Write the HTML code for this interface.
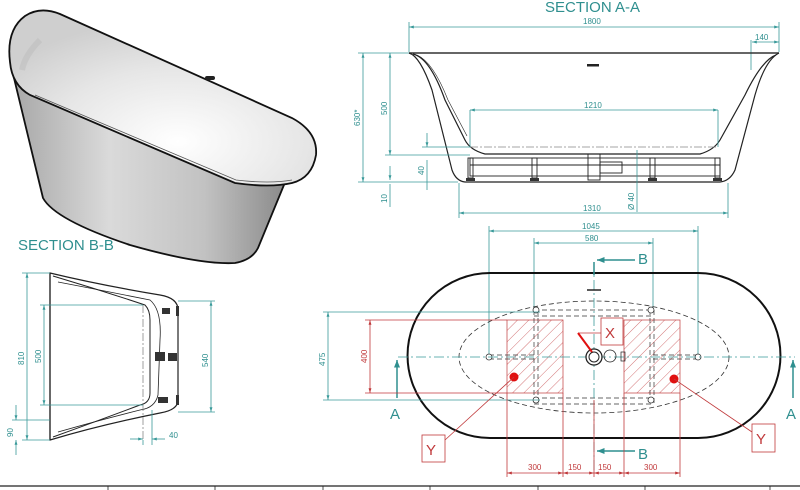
<!DOCTYPE html>
<html><head><meta charset="utf-8"><style>
html,body{margin:0;padding:0;background:#fff;width:800px;height:490px;overflow:hidden}
svg{display:block}
.t{font-family:"Liberation Sans",sans-serif;fill:#2f8f8f}
.d{stroke:#3a9a9a;stroke-width:0.8;fill:none}
.r{stroke:#c0393b;stroke-width:0.8;fill:none}
.k{stroke:#222;fill:none}
</style></head><body>
<svg width="800" height="490" viewBox="0 0 800 490" xmlns="http://www.w3.org/2000/svg">
<defs>
<linearGradient id="body" x1="0" y1="0" x2="1" y2="0">
<stop offset="0" stop-color="#a8a8a8"/><stop offset="0.35" stop-color="#dadada"/><stop offset="0.7" stop-color="#c2c2c2"/><stop offset="1" stop-color="#8a8a8a"/></linearGradient>
<radialGradient id="inner" cx="0.55" cy="0.75" r="0.7">
<stop offset="0" stop-color="#ffffff"/><stop offset="0.6" stop-color="#e6e6e6"/><stop offset="1" stop-color="#cfcfcf"/></radialGradient>
<pattern id="hat" width="8" height="8" patternUnits="userSpaceOnUse" patternTransform="rotate(45)">
<line x1="0" y1="0" x2="0" y2="8" stroke="#c0393b" stroke-width="0.7"/></pattern>
<marker id="a" viewBox="0 0 10 10" refX="10" refY="5" markerWidth="6" markerHeight="6" orient="auto-start-reverse"><path d="M0,2L10,5L0,8z" fill="#3a9a9a"/></marker>
<marker id="ar" viewBox="0 0 10 10" refX="10" refY="5" markerWidth="6" markerHeight="6" orient="auto-start-reverse"><path d="M0,2L10,5L0,8z" fill="#c0393b"/></marker>
<marker id="ab" viewBox="0 0 10 10" refX="10" refY="5" markerWidth="5" markerHeight="5" orient="auto-start-reverse"><path d="M0,1L10,5L0,9z" fill="#2f8f8f"/></marker>
</defs>

<!-- 3D tub -->
<path d="M14,78 L43,198 Q55,220 130,245 Q200,265 235,263 Q252,260 258,248 L286,180 L200,150 Z" fill="url(#body)" stroke="#111" stroke-width="1.8"/>
<path d="M10,62 Q6,30 25,16 Q40,6 60,14 L292,118 Q318,132 316,155 Q312,178 292,183 Q270,188 235,183 L30,95 Q12,85 10,62 Z" fill="url(#inner)" stroke="#111" stroke-width="1.8"/>
<path d="M22,70 Q25,55 40,40" stroke="#bbb" stroke-width="6" fill="none" opacity="0.5"/>
<path d="M35,95 L236,180 Q270,184 292,180" stroke="#555" stroke-width="0.8" fill="none"/>
<rect x="205" y="76" width="10" height="4" rx="2" fill="#222"/>

<!-- Section A-A -->
<text x="545" y="12" class="t" font-size="15">SECTION A-A</text>
<line x1="409" y1="27" x2="779" y2="27" class="d" marker-start="url(#a)" marker-end="url(#a)"/>
<text x="583" y="24" class="t" font-size="8">1800</text>
<line x1="409" y1="22" x2="409" y2="52" class="d"/><line x1="779" y1="22" x2="779" y2="52" class="d"/>
<line x1="751" y1="40" x2="751" y2="70" class="d"/>
<line x1="752" y1="42" x2="779" y2="42" class="d" marker-start="url(#a)" marker-end="url(#a)"/>
<text x="755" y="40" class="t" font-size="8">140</text>
<path d="M409,53 L779,53" stroke="#333" stroke-width="1.5"/>
<path d="M409,53 Q420,56 432,90 L452,170 Q456,181 465,182 L720,182 Q730,181 735,170 L755,95 Q765,60 779,53" class="k" stroke-width="1.2"/>
<path d="M413,54 Q430,58 445,100 L465,140 Q470,150 485,154 L700,154 Q714,150 720,140 L745,95 Q762,60 776,55" class="k" stroke-width="1.2"/>
<path d="M417,55 Q433,62 448,100 L467,136" class="k" stroke-width="0.6"/>
<rect x="587" y="64" width="12" height="2.5" fill="#222"/>
<line x1="470" y1="147" x2="718" y2="147" stroke="#888" stroke-width="0.7" stroke-dasharray="8,2,2,2"/>
<line x1="470" y1="110" x2="718" y2="110" class="d" marker-start="url(#a)" marker-end="url(#a)"/>
<text x="584" y="108" class="t" font-size="8">1210</text>
<line x1="470" y1="110" x2="470" y2="147" class="d"/><line x1="718" y1="110" x2="718" y2="147" class="d"/>
<g class="k" stroke-width="0.9">
<rect x="470" y="158" width="250" height="18"/>
<line x1="470" y1="165" x2="720" y2="165"/>
<rect x="468" y="158" width="5" height="20"/><rect x="532" y="158" width="5" height="20"/>
<rect x="650" y="158" width="5" height="20"/><rect x="715" y="158" width="5" height="20"/>
<rect x="588" y="154" width="12" height="26"/><rect x="600" y="162" width="22" height="11"/>
</g>
<g fill="#333"><rect x="466" y="178" width="9" height="3"/><rect x="530" y="178" width="9" height="3"/><rect x="648" y="178" width="9" height="3"/><rect x="713" y="178" width="9" height="3"/></g>
<line x1="363" y1="53" x2="363" y2="182" class="d" marker-start="url(#a)" marker-end="url(#a)"/>
<line x1="358" y1="53" x2="409" y2="53" class="d"/><line x1="358" y1="182" x2="458" y2="182" class="d"/>
<text x="0" y="0" class="t" font-size="8" transform="translate(360,126) rotate(-90)">630*</text>
<line x1="390" y1="53" x2="390" y2="155" class="d" marker-start="url(#a)" marker-end="url(#a)"/>
<line x1="385" y1="155" x2="470" y2="155" class="d"/>
<text x="0" y="0" class="t" font-size="8" transform="translate(387,115) rotate(-90)">500</text>
<line x1="427" y1="133" x2="427" y2="147" class="d" marker-end="url(#a)"/>
<line x1="427" y1="190" x2="427" y2="160" class="d"/>
<line x1="422" y1="147" x2="470" y2="147" class="d"/>
<text x="0" y="0" class="t" font-size="8" transform="translate(424,175) rotate(-90)">40</text>
<line x1="390" y1="166" x2="390" y2="180" class="d" marker-end="url(#a)"/>
<line x1="390" y1="207" x2="390" y2="184" class="d"/>
<text x="0" y="0" class="t" font-size="8" transform="translate(387,203) rotate(-90)">10</text>
<line x1="459" y1="183" x2="459" y2="218" class="d"/><line x1="728" y1="183" x2="728" y2="218" class="d"/>
<line x1="459" y1="213" x2="728" y2="213" class="d" marker-start="url(#a)" marker-end="url(#a)"/>
<text x="583" y="211" class="t" font-size="8">1310</text>
<line x1="637" y1="150" x2="637" y2="212" class="d"/>
<text x="0" y="0" class="t" font-size="8" transform="translate(634,210) rotate(-90)">Ø 40</text>

<!-- Plan view -->
<line x1="489" y1="226" x2="489" y2="360" class="d"/><line x1="698" y1="226" x2="698" y2="360" class="d"/>
<line x1="489" y1="231" x2="698" y2="231" class="d" marker-start="url(#a)" marker-end="url(#a)"/>
<text x="582" y="229" class="t" font-size="8">1045</text>
<line x1="534" y1="238" x2="534" y2="310" class="d"/><line x1="653" y1="238" x2="653" y2="310" class="d"/>
<line x1="534" y1="243" x2="653" y2="243" class="d" marker-start="url(#a)" marker-end="url(#a)"/>
<text x="585" y="241" class="t" font-size="8">580</text>
<path d="M490,273 L698,273 A82.5,82.5 0 0 1 698,438 L490,438 A82.5,82.5 0 0 1 490,273 Z" fill="none" stroke="#111" stroke-width="2"/>
<ellipse cx="594" cy="357" rx="135" ry="56" fill="none" stroke="#333" stroke-width="0.8" stroke-dasharray="5,3"/>
<rect x="507" y="320" width="56" height="73" fill="url(#hat)" stroke="#c0393b" stroke-width="0.7"/>
<rect x="624" y="320" width="56" height="73" fill="url(#hat)" stroke="#c0393b" stroke-width="0.7"/>
<g stroke="#333" stroke-width="0.7" stroke-dasharray="5,3" fill="none">
<line x1="534" y1="310" x2="653" y2="310"/><line x1="534" y1="316" x2="653" y2="316"/>
<line x1="534" y1="398" x2="653" y2="398"/><line x1="534" y1="404" x2="653" y2="404"/>
<line x1="534" y1="310" x2="534" y2="404"/><line x1="538" y1="310" x2="538" y2="404"/>
<line x1="650" y1="310" x2="650" y2="404"/><line x1="654" y1="310" x2="654" y2="404"/>
<line x1="489" y1="355" x2="534" y2="355"/><line x1="489" y1="359" x2="534" y2="359"/>
<line x1="653" y1="355" x2="698" y2="355"/><line x1="653" y1="359" x2="698" y2="359"/>
</g>
<g fill="#fff" stroke="#333" stroke-width="0.8">
<circle cx="489" cy="357" r="3"/><circle cx="698" cy="357" r="3"/><circle cx="536" cy="310" r="3"/><circle cx="651" cy="310" r="3"/><circle cx="536" cy="400" r="3"/><circle cx="651" cy="400" r="3"/>
</g>
<line x1="398" y1="357" x2="795" y2="357" stroke="#3a9a9a" stroke-width="0.8" stroke-dasharray="10,3,2,3"/>
<line x1="594" y1="262" x2="594" y2="470" stroke="#3a9a9a" stroke-width="0.8" stroke-dasharray="10,3,2,3"/>
<circle cx="594" cy="357" r="8" fill="#fff" stroke="#222" stroke-width="1.3"/><circle cx="594" cy="357" r="5" fill="none" stroke="#222"/>
<circle cx="610" cy="356" r="6" fill="none" stroke="#222" stroke-width="0.8"/>
<rect x="621" y="352" width="4" height="9" fill="none" stroke="#222" stroke-width="0.7"/>
<line x1="587" y1="290" x2="601" y2="290" stroke="#222" stroke-width="1.5"/>
<line x1="594" y1="262" x2="594" y2="275" stroke="#2f8f8f" stroke-width="1.5"/>
<line x1="635" y1="260" x2="597" y2="260" stroke="#2f8f8f" stroke-width="1.5" marker-end="url(#ab)"/>
<text x="638" y="264" class="t" font-size="15">B</text>
<line x1="635" y1="451" x2="597" y2="451" stroke="#2f8f8f" stroke-width="1.5" marker-end="url(#ab)"/>
<text x="638" y="459" class="t" font-size="15">B</text>
<line x1="397" y1="398" x2="397" y2="360" stroke="#2f8f8f" stroke-width="1.5" marker-end="url(#ab)"/>
<text x="390" y="419" class="t" font-size="15">A</text>
<line x1="793" y1="398" x2="793" y2="360" stroke="#2f8f8f" stroke-width="1.5" marker-end="url(#ab)"/>
<text x="786" y="419" class="t" font-size="15">A</text>
<line x1="323" y1="312" x2="540" y2="312" class="d"/><line x1="323" y1="400" x2="540" y2="400" class="d"/>
<line x1="328" y1="312" x2="328" y2="400" class="d" marker-start="url(#a)" marker-end="url(#a)"/>
<text x="0" y="0" class="t" font-size="8" transform="translate(325,366) rotate(-90)">475</text>
<line x1="365" y1="320" x2="507" y2="320" class="r"/><line x1="365" y1="393" x2="507" y2="393" class="r"/>
<line x1="370" y1="320" x2="370" y2="393" class="r" marker-start="url(#ar)" marker-end="url(#ar)"/>
<text x="0" y="0" font-family="Liberation Sans,sans-serif" fill="#c0393b" font-size="8" transform="translate(367,363) rotate(-90)">400</text>
<g class="r"><line x1="507" y1="393" x2="507" y2="477"/><line x1="563" y1="393" x2="563" y2="477"/><line x1="624" y1="393" x2="624" y2="477"/><line x1="680" y1="393" x2="680" y2="477"/><line x1="594" y1="400" x2="594" y2="477"/></g>
<g class="r" marker-start="url(#ar)" marker-end="url(#ar)">
<line x1="507" y1="473" x2="563" y2="473"/><line x1="563" y1="473" x2="594" y2="473"/><line x1="594" y1="473" x2="624" y2="473"/><line x1="624" y1="473" x2="680" y2="473"/></g>
<g font-family="Liberation Sans,sans-serif" fill="#c0393b" font-size="8">
<text x="528" y="470">300</text><text x="568" y="470">150</text><text x="598" y="470">150</text><text x="644" y="470">300</text></g>
<rect x="601" y="318" width="22" height="27" fill="#fff" stroke="#c0393b" stroke-width="0.8"/>
<text x="605" y="338" font-family="Liberation Sans,sans-serif" fill="#c0393b" font-size="15">X</text>
<line x1="578" y1="333" x2="601" y2="333" class="r"/><line x1="578" y1="333" x2="592" y2="352" stroke="#e01010" stroke-width="2"/>
<circle cx="514" cy="377" r="4.5" fill="#e01010"/><circle cx="674" cy="379" r="4.5" fill="#e01010"/>
<line x1="514" y1="377" x2="445" y2="440" class="r"/><line x1="674" y1="379" x2="752" y2="432" class="r"/>
<rect x="422" y="435" width="23" height="27" fill="#fff" stroke="#c0393b" stroke-width="0.8"/>
<text x="426" y="455" font-family="Liberation Sans,sans-serif" fill="#c0393b" font-size="15">Y</text>
<rect x="752" y="424" width="23" height="28" fill="#fff" stroke="#c0393b" stroke-width="0.8"/>
<text x="756" y="444" font-family="Liberation Sans,sans-serif" fill="#c0393b" font-size="15">Y</text>

<!-- Section B-B -->
<text x="18" y="250" class="t" font-size="15">SECTION B-B</text>
<path d="M50,273 Q100,285 160,295 Q178,298 178,310 L178,400 Q178,410 160,413 Q100,425 50,440 Z" fill="#fff" stroke="#222" stroke-width="1.2"/>
<path d="M53,276 Q100,290 145,305 Q150,310 150,320 L150,393 Q150,403 140,405 Q100,420 53,437" fill="none" stroke="#222" stroke-width="1"/>
<path d="M58,282 Q100,290 150,300 Q162,310 160,340 L158,395 Q155,408 140,410 Q100,420 58,432" fill="none" stroke="#222" stroke-width="0.8"/>
<line x1="50" y1="273" x2="50" y2="440" stroke="#222" stroke-width="1.2"/>
<line x1="143" y1="305" x2="143" y2="440" stroke="#777" stroke-width="0.7" stroke-dasharray="8,2,2,2"/>
<g fill="#333"><rect x="162" y="308" width="8" height="6"/><rect x="155" y="352" width="10" height="9"/><rect x="168" y="353" width="9" height="8"/><rect x="158" y="397" width="10" height="6"/>
<rect x="176" y="306" width="3" height="10"/><rect x="176" y="395" width="3" height="10"/></g>
<line x1="22" y1="273" x2="50" y2="273" class="d"/><line x1="22" y1="440" x2="50" y2="440" class="d"/>
<line x1="27" y1="273" x2="27" y2="440" class="d" marker-start="url(#a)" marker-end="url(#a)"/>
<text x="0" y="0" class="t" font-size="8" transform="translate(24,365) rotate(-90)">810</text>
<line x1="40" y1="305" x2="143" y2="305" class="d"/><line x1="40" y1="405" x2="143" y2="405" class="d"/>
<line x1="44" y1="305" x2="44" y2="405" class="d" marker-start="url(#a)" marker-end="url(#a)"/>
<text x="0" y="0" class="t" font-size="8" transform="translate(41,363) rotate(-90)">500</text>
<line x1="178" y1="301" x2="215" y2="301" class="d"/><line x1="178" y1="412" x2="215" y2="412" class="d"/>
<line x1="211" y1="301" x2="211" y2="412" class="d" marker-start="url(#a)" marker-end="url(#a)"/>
<text x="0" y="0" class="t" font-size="8" transform="translate(208,367) rotate(-90)">540</text>
<line x1="12" y1="420" x2="50" y2="420" class="d"/>
<line x1="16" y1="405" x2="16" y2="420" class="d" marker-end="url(#a)"/>
<line x1="16" y1="455" x2="16" y2="440" class="d" marker-end="url(#a)"/>
<text x="0" y="0" class="t" font-size="8" transform="translate(13,437) rotate(-90)">90</text>
<line x1="143" y1="440" x2="143" y2="445" class="d"/><line x1="152" y1="410" x2="152" y2="445" class="d"/>
<line x1="130" y1="439" x2="143" y2="439" class="d" marker-end="url(#a)"/>
<line x1="165" y1="439" x2="152" y2="439" class="d" marker-end="url(#a)"/>
<text x="169" y="438" class="t" font-size="8">40</text>

<!-- bottom table strip -->
<line x1="0" y1="486" x2="800" y2="486" stroke="#222" stroke-width="1.2"/>
<g stroke="#222" stroke-width="0.8"><line x1="108" y1="486" x2="108" y2="490"/><line x1="215" y1="486" x2="215" y2="490"/><line x1="323" y1="486" x2="323" y2="490"/><line x1="430" y1="486" x2="430" y2="490"/><line x1="538" y1="486" x2="538" y2="490"/><line x1="645" y1="486" x2="645" y2="490"/><line x1="770" y1="486" x2="770" y2="490"/></g>
</svg>
</body></html>
